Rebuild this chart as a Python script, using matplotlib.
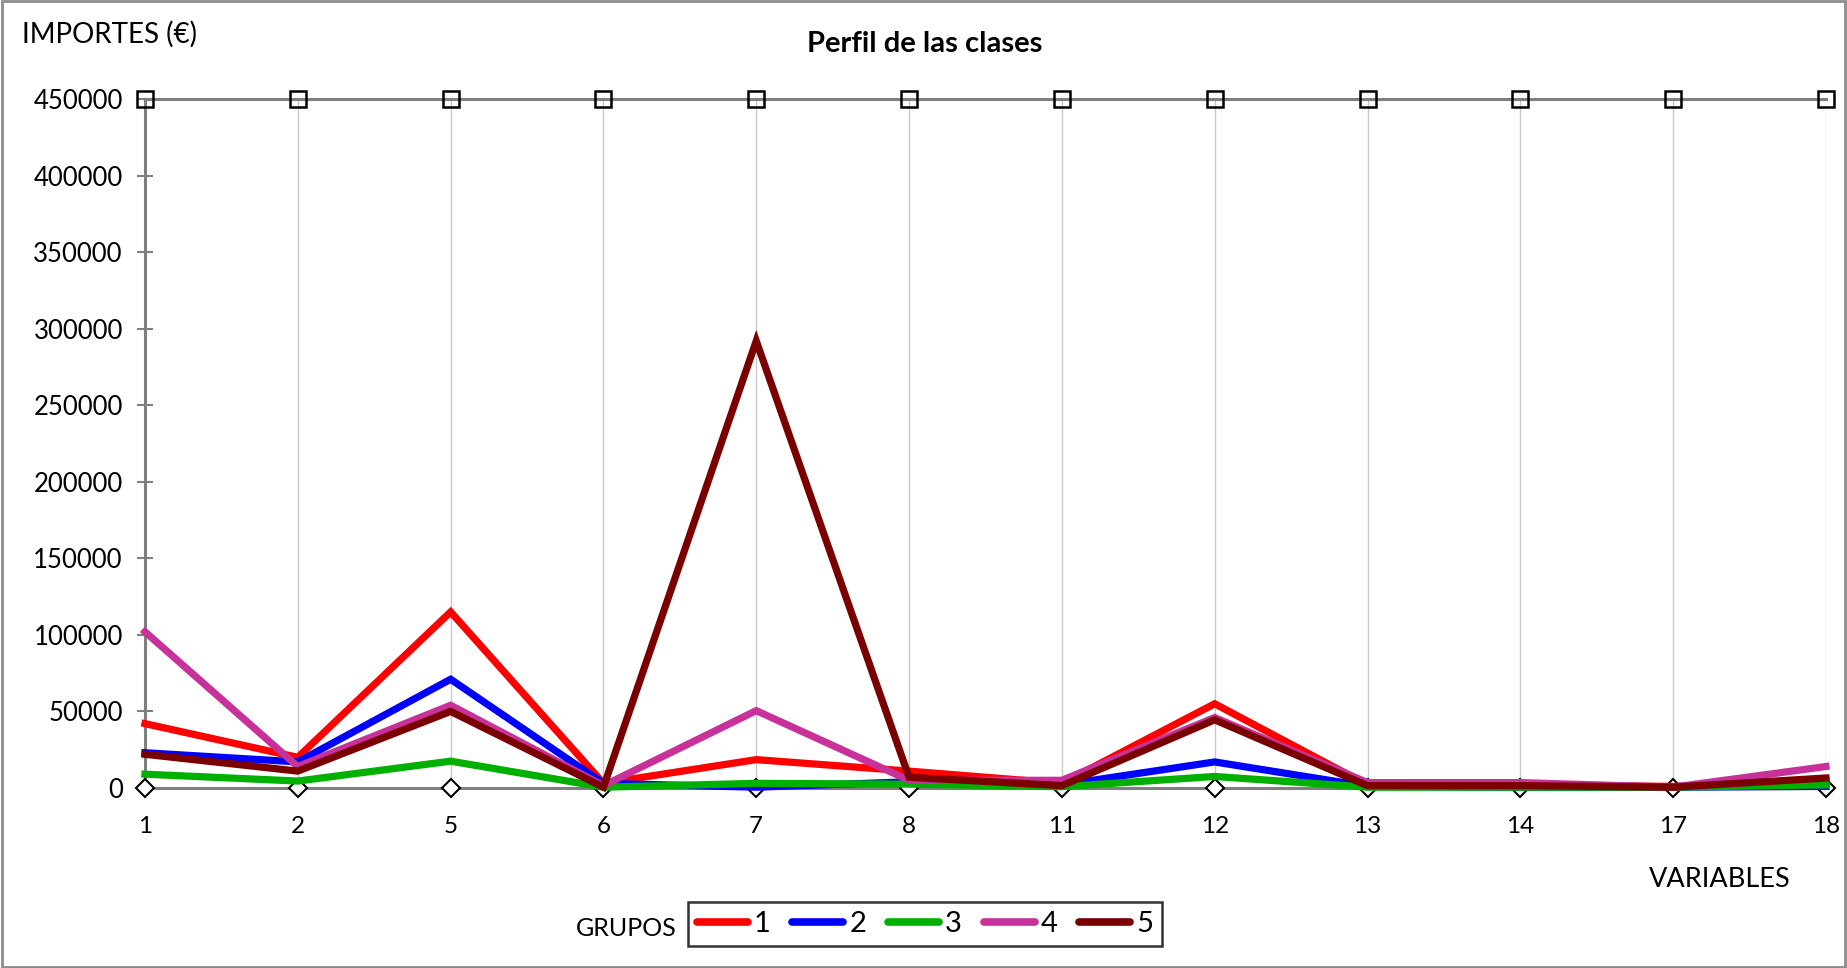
import matplotlib
matplotlib.use("Agg")
import matplotlib.pyplot as plt
from matplotlib.patches import Rectangle
from matplotlib.lines import Line2D
import numpy as np

plt.rcParams['font.family'] = ['Lato', 'DejaVu Sans']

variables = ["1", "2", "5", "6", "7", "8", "11", "12", "13", "14", "17", "18"]
grupo1 = [42000, 20000, 115000, 3000, 18500, 11000, 3000, 55000, 2000, 2000, 1000, 5000]
grupo2 = [23000, 17000, 71000, 3000, 500, 4000, 2000, 17000, 1000, 500, 500, 1000]
grupo3 = [9000, 4500, 17500, 500, 3000, 2500, 800, 7500, 500, 500, 500, 2000]
grupo4 = [102000, 14000, 54000, 1500, 50500, 5000, 5000, 46000, 3500, 3500, 500, 14000]
grupo5 = [22000, 11000, 50000, 500, 292000, 7000, 1500, 44500, 1500, 1500, 500, 6500]
maximo = [450000] * 12
minimo = [0] * 12
group_names = ["1", "2", "3", "4", "5"]
colors = ["#FF0000", "#0000FF", "#00B000", "#C8309A", "#7A0000"]

fig = plt.figure(figsize=(18.47, 9.68), dpi=100)
ax = fig.add_axes([0.0785, 0.186, 0.9101, 0.7117])

x = np.arange(len(variables))

# vertical gridlines
for xi in x:
    ax.axvline(xi, color="#C8C8C8", lw=1.0, zorder=0)

# max / min reference series
ax.plot(x, maximo, color="#7F7F7F", lw=2.2, marker="s", markersize=11,
        markerfacecolor="none", markeredgecolor="black", markeredgewidth=1.8,
        clip_on=False, zorder=3)
ax.plot(x, minimo, color="#7F7F7F", lw=2.2, marker="D", markersize=9,
        markerfacecolor="white", markeredgecolor="black", markeredgewidth=1.5,
        clip_on=False, zorder=3)

series = [grupo1, grupo2, grupo3, grupo4, grupo5]
for vals, c in zip(series, colors):
    ax.plot(x, vals, color=c, lw=5.2, solid_joinstyle="miter",
            clip_on=False, zorder=4)

ax.set_xlim(0, len(variables) - 1)
ax.set_ylim(0, 450000)
ax.set_yticks(np.arange(0, 450001, 50000))
ax.set_yticklabels([str(v) for v in range(0, 450001, 50000)], fontsize=18.5)
ax.set_xticks(x)
ax.set_xticklabels(variables, fontsize=17.5)
ax.tick_params(axis="x", length=0, pad=20)
ax.tick_params(axis="y", direction="inout", length=12, width=1.5,
               color="#7F7F7F", pad=10)

for s in ["top", "right", "bottom"]:
    ax.spines[s].set_visible(False)
ax.spines["left"].set_color("#7F7F7F")
ax.spines["left"].set_linewidth(2.2)

fig.text(0.5005, 0.955, "Perfil de las clases", ha="center", va="center",
         fontsize=21, fontweight="bold")
fig.text(0.012, 0.965, "IMPORTES (€)", ha="left", va="center", fontsize=20)
fig.text(0.931, 0.091, "VARIABLES", ha="center", va="center", fontsize=19.5)
fig.text(0.3666, 0.041, "GRUPOS", ha="right", va="center", fontsize=18)

handles = [Line2D([0], [0], color=c, lw=5.5, solid_capstyle="round") for c in colors]
leg = fig.legend(handles, group_names, loc="center", bbox_to_anchor=(0.5008, 0.0455),
                 ncol=5, fontsize=21, frameon=True, fancybox=False,
                 handlelength=1.75, handletextpad=0.2, columnspacing=0.75,
                 borderpad=0.3, edgecolor="black")
leg.get_frame().set_linewidth(1.8)

fig.patches.append(Rectangle((0.001, 0.001), 0.998, 0.998, transform=fig.transFigure,
                             fill=False, edgecolor="#8C8C8C", lw=2))

fig.savefig("out.png", dpi=100)
